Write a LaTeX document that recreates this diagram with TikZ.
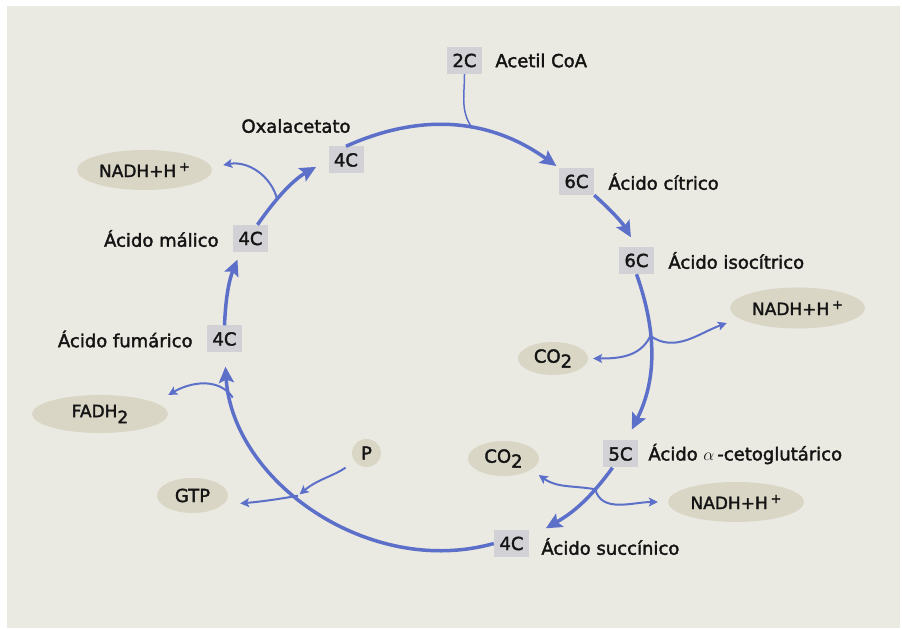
\documentclass[tikz,border=0pt]{standalone}
\usepackage{fontspec}
\setmainfont{DejaVu Sans}
\newfontfamily\labfont{DejaVu Sans}[FakeBold=2]
\usetikzlibrary{positioning,arrows.meta,shapes.geometric}

\definecolor{panel}{RGB}{235,234,226}
\definecolor{cycblue}{RGB}{92,112,202}
\definecolor{boxgray}{RGB}{210,210,214}
\definecolor{blob}{RGB}{217,214,198}
\definecolor{ink}{RGB}{20,20,20}

\newcommand{\nadhtxt}{{\fontsize{17}{19}\selectfont NADH+H\,\raisebox{6pt}{\fontsize{13}{13}\selectfont +}}}
\newcommand{\cotwotxt}{CO\raisebox{-5pt}{2}}

\begin{document}
\begin{tikzpicture}[x=1pt,y=1pt,
  every node/.style={font=\labfont\fontsize{18}{21}\selectfont, text=ink},
  cbox/.style={fill=boxgray, minimum width=35pt, minimum height=27pt, inner sep=0pt},
  lab/.style={inner sep=0pt},
  blobnode/.style={ellipse, fill=blob, inner sep=0pt},
  cyc/.style={draw=cycblue, line width=3.5pt, -{Stealth[length=16pt,width=15pt,inset=3pt]}},
  side/.style={draw=cycblue, line width=2pt, -{Stealth[length=9pt,width=9pt,inset=2pt]}}]
  \useasboundingbox (0,0) rectangle (902,629);

  % panel
  \fill[white] (0,0) rectangle (902,629);
  \fill[panel] (7,1) rectangle (900,623);

  % carbon boxes and their names
  \node[cbox] (acoa) at (464.5,568.5) {2C};
  \node[lab, right=13pt of acoa] (acoaname) {Acetil CoA};
  \node[cbox] (cit) at (576.5,447.5) {6C};
  \node[lab, right=14pt of cit] (citname) {Ácido cítrico};
  \node[cbox] (iso) at (636.5,368.5) {6C};
  \node[lab, right=14pt of iso] (isoname) {Ácido isocítrico};
  \node[cbox] (akg) at (620.5,175) {5C};
  \node[lab, right=10pt of akg] (akgname) {Ácido $\alpha$\,-cetoglutárico};
  \node[cbox] (suc) at (511.5,85.5) {4C};
  \node[lab, right=12pt of suc, yshift=-3pt] (sucname) {Ácido succínico};
  \node[cbox] (fum) at (224.5,290) {4C};
  \node[lab, left=14pt of fum] (fumname) {Ácido fumárico};
  \node[cbox] (mal) at (250.5,390.5) {4C};
  \node[lab, left=14pt of mal] (malname) {Ácido málico};
  \node[cbox] (oxa) at (346,469) {4C};
  \node[lab] (oxaname) at (296,503) {Oxalacetato};

  % products
  \node[blobnode, minimum width=135pt, minimum height=41pt] (nadhA) at (797.5,321) {\nadhtxt};
  \node[blobnode, minimum width=70pt, minimum height=33pt] (co2A) at (553,270.5) {\cotwotxt};
  \node[blobnode, minimum width=71pt, minimum height=35pt] (co2B) at (503.5,170.5) {\cotwotxt};
  \node[blobnode, minimum width=136pt, minimum height=40pt] (nadhB) at (736,127) {\nadhtxt};
  \node[blobnode, minimum width=135pt, minimum height=40pt] (nadhC) at (144.5,459) {\nadhtxt};
  \node[blobnode, minimum width=136pt, minimum height=38pt] (fadh) at (100,215)
    {\fontsize{17}{19}\selectfont FADH\raisebox{-6pt}{2}};
  \node[blobnode, minimum width=71pt, minimum height=35pt] (gtp) at (192.5,133.5) {GTP};
  \node[blobnode, minimum width=29pt, minimum height=28pt] (pnode) at (366.5,176) {P};

  % the cycle
  \draw[cyc, shorten >=3pt] (oxa.north) to[bend left=30] coordinate[pos=0.58] (jin) (cit.north west);
  \draw[cyc, shorten >=11pt] (cit.south east) to[bend left=9] (iso.north);
  \draw[cyc, shorten >=12pt] (iso.south) to[bend left=23] coordinate[pos=0.36] (jiso) ([xshift=6pt]akg.north);
  \draw[cyc, shorten >=3pt] ([xshift=-8pt]akg.south) to[bend left=12] coordinate[pos=0.28] (jakg) ([xshift=14pt]suc.north east);
  \draw[cyc, shorten >=14pt] (suc.west) to[bend left=51] coordinate[pos=0.56] (jgtp) coordinate[pos=0.88] (jfadh) (fum.south);
  \draw[cyc, shorten >=8pt] (fum.north) to[bend left=10] ([xshift=-10pt]mal.south);
  \draw[cyc, shorten >=14pt] ([xshift=7pt]mal.north) to[bend left=13] coordinate[pos=0.32] (jmal) (oxa.west);

  % inputs and side products
  \draw[cycblue, line width=1.5pt] (acoa.south) to[out=-90, in=125] (jin);
  \draw[side] (jiso) to[out=-35, in=200] ([xshift=-3pt,yshift=-15pt]nadhA.west);
  \draw[side] (jiso) to[out=-115, in=0] ([xshift=5pt]co2A.east);
  \draw[side] (jakg) to[out=170, in=-35] ([xshift=10pt,yshift=-4pt]co2B.south east);
  \draw[side] (jakg) to[out=-75, in=180] ([xshift=-10pt]nadhB.west);
  \draw[side, shorten <=11pt, shorten >=2pt] (pnode) to[out=215, in=40] (jgtp);
  \draw[side, shorten >=12pt] (jgtp) to[out=190, in=5] ([yshift=-9pt]gtp.east);
  \draw[side] (jfadh) to[out=125, in=30] ([yshift=19pt]fadh.east);
  \draw[side] (jmal) to[out=105, in=10] ([xshift=11pt,yshift=5pt]nadhC.east);
\end{tikzpicture}
\end{document}
